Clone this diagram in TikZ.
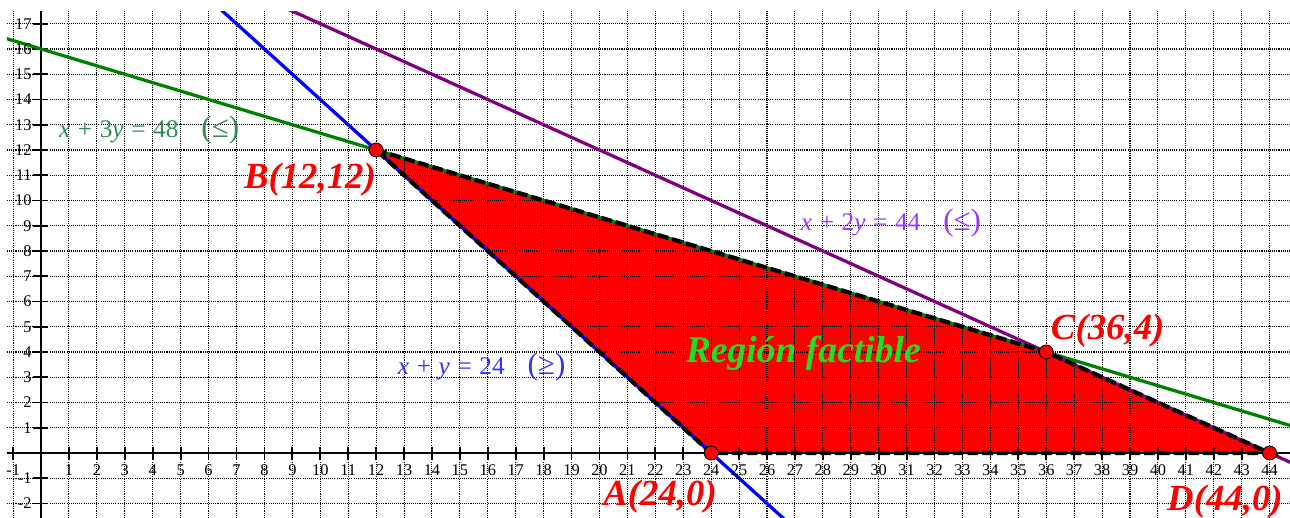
\documentclass[tikz,border=0pt]{standalone}
\usepackage{fontspec}
\setmainfont{Liberation Serif}
\definecolor{RestrGreen}{HTML}{008000}
\definecolor{RestrBlue}{HTML}{0000FF}
\definecolor{RestrPurple}{HTML}{800080}
\definecolor{EqGreen}{HTML}{2E8B57}
\definecolor{EqBlue}{HTML}{3333FF}
\definecolor{EqViolet}{HTML}{9933FF}
\definecolor{RegionGreen}{HTML}{22DD22}
\newcommand{\opsp}[1]{\hspace{0.3em}#1\hspace{0.3em}}
\newcommand{\ineq}[1]{\hspace{0.9em}{\fontsize{19}{19}\selectfont(#1)}}

\begin{document}
\begin{tikzpicture}[
    x=0.6cm, y=0.5426cm,
    gridln/.style={black, line width=0.65pt, dash pattern=on 0.65pt off 0.65pt},
    axisln/.style={black, line width=1.7pt},
    tickmk/.style={black, line width=1.1pt},
    ticklbl/.style={font=\fontsize{10}{11}\selectfont, inner sep=0pt},
    restr/.style={line width=2pt},
    border/.style={black, line width=2.6pt, dash pattern=on 6.5pt off 2.5pt},
    vertex/.style={circle, draw=black, line width=0.5pt, fill=red, minimum size=0.3cm, inner sep=0pt},
    ptlbl/.style={text=red, font=\fontsize{22.5}{26}\selectfont\bfseries\itshape, inner sep=0pt},
    regionlbl/.style={text=RegionGreen, font=\fontsize{23}{26}\selectfont\bfseries\itshape, inner sep=0pt},
    eqlbl/.style={font=\fontsize{15.5}{17}\selectfont, inner sep=0pt},
]

\useasboundingbox (-1.47,-2.57) rectangle (44.73,17.94);

% --- Vertices of the feasible region ---
\coordinate (A) at (24,0);
\coordinate (B) at (12,12);
\coordinate (C) at (36,4);
\coordinate (D) at (44,0);

% --- Feasible region (fill under the grid) ---
\fill[red] (B) -- (C) -- (D) -- (A) -- cycle;

\begin{scope}
\clip (-1.22,-2.57) rectangle (44.73,17.5);

% --- Grid ---
\foreach \i in {-1,...,44} \draw[gridln] (\i,-2.57) -- (\i,17.5);
\foreach \j in {-2,...,17} \draw[gridln] (-1.22,\j) -- (44.73,\j);

% --- Axes and ticks ---
\draw[axisln] (-1.22,0) -- (44.73,0);
\draw[axisln] (0,-2.57) -- (0,17.5);
\foreach \i in {-1,1,2,...,44} \draw[tickmk] (\i,0.24) -- (\i,-0.28);
\foreach \j in {-2,-1,1,2,...,17} \draw[tickmk] (-0.29,\j) -- (0.25,\j);

% --- Constraint lines ---
\draw[restr, RestrGreen]  (-3,17) -- (48,0);
\draw[restr, RestrBlue]   (4,20)  -- (28,-4);
\draw[restr, RestrPurple] (4,20)  -- (48,-2);
\end{scope}

% --- Tick labels ---
\foreach \i in {-1,1,2,...,44} \node[ticklbl] (xt\i) at (\i,-0.67) {\i};
\foreach \j in {-2,-1,1,2,...,17} \node[ticklbl, anchor=east] (yt\j) at (-0.33,\j) {\j};

% --- Border of the region (dashed) ---
\draw[border] (B) -- (C) -- (D) -- (A) -- cycle;

% --- Vertices ---
\node[vertex] (ptA) at (A) {};
\node[vertex] (ptB) at (B) {};
\node[vertex] (ptC) at (C) {};
\node[vertex] (ptD) at (D) {};

% --- Labels ---
\node[ptlbl] (lblA) at (22.17,-1.72) {A(24,0)};
\node[ptlbl] (lblB) at (9.63,10.81)  {B(12,12)};
\node[ptlbl] (lblC) at (38.2,4.83)   {C(36,4)};
\node[ptlbl] (lblD) at (42.4,-1.94)  {D(44,0)};
\node[regionlbl] (region) at (27.3,3.93) {Región factible};

\node[eqlbl, text=EqGreen]  (eqGreen)  at (3.87,12.8) {\textit{x}\opsp{+}3\textit{y}\opsp{=}48\ineq{≤}};
\node[eqlbl, text=EqViolet] (eqViolet) at (30.44,9.1) {\textit{x}\opsp{+}2\textit{y}\opsp{=}44\ineq{≤}};
\node[eqlbl, text=EqBlue]   (eqBlue)   at (15.78,3.42) {\textit{x}\opsp{+}\textit{y}\opsp{=}24\ineq{≥}};

\end{tikzpicture}
\end{document}
